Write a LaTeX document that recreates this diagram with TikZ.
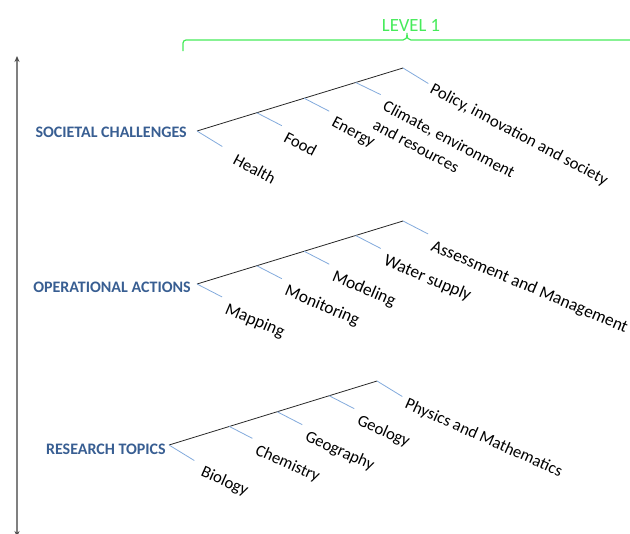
\documentclass[tikz,border=0pt]{standalone}
\usepackage{fontspec}
\setmainfont{Carlito}
\usetikzlibrary{arrows.meta,calc}

\definecolor{headblue}{RGB}{56,94,146}
\definecolor{tickblue}{RGB}{130,170,220}
\definecolor{levelgreen}{RGB}{70,235,90}

\begin{document}
\begin{tikzpicture}[x=0.75pt,y=-0.75pt,
    head/.style={font=\fontsize{12}{14}\selectfont\bfseries,text=headblue,anchor=east,inner sep=0pt},
    item/.style={font=\fontsize{12.5}{16}\selectfont,anchor=north west,inner sep=1pt,rotate=-28,align=left},
    itemflat/.style={item,font=\fontsize{13}{16}\selectfont,rotate=5},
    itemlow/.style={item,rotate=4},
    stem/.style={draw=black!85,line width=0.6pt},
    twig/.style={draw=tickblue,line width=0.6pt,shorten >=5pt}]

  \useasboundingbox (0,0) rectangle (630,533);

  % level brace
  \node[font=\fontsize{14}{16}\selectfont,text=levelgreen] (lvl) at (411,25) {LEVEL 1};
  \draw[levelgreen,line width=0.9pt] (183,51) -- (183,43) to[out=90,in=180] (186,40) -- (403,40)
       .. controls (406,40) and (407,38) .. (407,33)
       .. controls (407,38) and (408,40) .. (411,40) -- (632,40);

  % axis
  \coordinate (bot) at (17,537);
  \coordinate (top) at (17,56);
  \draw[gray,line width=0.9pt,{Stealth[length=4.5pt,width=3.8pt,black!70]}-{Stealth[length=4.5pt,width=3.8pt,black!70]}] (bot) -- (top);

  % societal challenges
  \coordinate (s0) at (197,131);
  \coordinate (s4) at (403,68);
  \coordinate (s1) at ($(s0)!0.29!(s4)$);
  \coordinate (s2) at ($(s0)!0.52!(s4)$);
  \coordinate (s3) at ($(s0)!0.77!(s4)$);
  \coordinate (s0end) at ($(s0)+(31,19)$);
  \coordinate (s4end) at ($(s4)+(31,19)$);
  \node[head] (soc) at (187,132) {SOCIETAL CHALLENGES};
  \node[item] (health)  at ($(s0)+(40,20)$) {Health};
  \node[item] (food)    at ($(s1)+(31,16)$) {Food};
  \node[item] (energy)  at ($(s2)+(31,16)$) {Energy};
  \node[item] (climate) at ($(s3)+(31,15)$) {Climate, environment\\and resources};
  \node[item] (policy)  at ($(s4)+(31,12)$) {Policy, innovation and society};
  \path[stem] (s0) edge (s4);
  \path[twig] (s0) edge (s0end)
              (s1) edge (food.north west)
              (s2) edge (energy.north west)
              (s3) edge (climate.north west)
              (s4) edge (s4end);

  % operational actions
  \coordinate (o0) at (197,284);
  \coordinate (o4) at (403,221);
  \coordinate (o1) at ($(o0)!0.29!(o4)$);
  \coordinate (o2) at ($(o0)!0.52!(o4)$);
  \coordinate (o3) at ($(o0)!0.77!(o4)$);
  \node[head] (ops) at (191,287) {OPERATIONAL ACTIONS};
  \node[itemflat] (mapping)    at ($(o0)+(31,16)$) {Mapping};
  \node[itemflat] (monitoring) at ($(o1)+(31,16)$) {Monitoring};
  \node[itemflat] (modeling)   at ($(o2)+(31,16)$) {Modeling};
  \node[itemflat] (water)      at ($(o3)+(31,16)$) {Water supply};
  \node[itemflat] (assess)     at ($(o4)+(31,16)$) {Assessment and Management};
  \path[stem] (o0) edge (o4);
  \path[twig] (o0) edge (mapping.north west)
              (o1) edge (monitoring.north west)
              (o2) edge (modeling.north west)
              (o3) edge (water.north west)
              (o4) edge (assess.north west);

  % research topics
  \coordinate (r0) at (169,445);
  \coordinate (r4) at (377,381);
  \coordinate (r1) at ($(r0)!0.29!(r4)$);
  \coordinate (r2) at ($(r0)!0.52!(r4)$);
  \coordinate (r3) at ($(r0)!0.77!(r4)$);
  \coordinate (r0end) at ($(r0)+(31,19)$);
  \coordinate (r4end) at ($(r4)+(31,19)$);
  \node[head] (res) at (166,449) {RESEARCH TOPICS};
  \node[itemlow] (biology)   at ($(r0)+(35,18)$) {Biology};
  \node[itemlow] (chemistry) at ($(r1)+(29,15)$) {Chemistry};
  \node[itemlow] (geography) at ($(r2)+(31,16)$) {Geography};
  \node[itemlow] (geology)   at ($(r3)+(31,16)$) {Geology};
  \node[itemlow] (physics)   at ($(r4)+(31,14)$) {Physics and Mathematics};
  \path[stem] (r0) edge (r4);
  \path[twig] (r0) edge (r0end)
              (r1) edge (chemistry.north west)
              (r2) edge (geography.north west)
              (r3) edge (geology.north west)
              (r4) edge (r4end);
\end{tikzpicture}
\end{document}
